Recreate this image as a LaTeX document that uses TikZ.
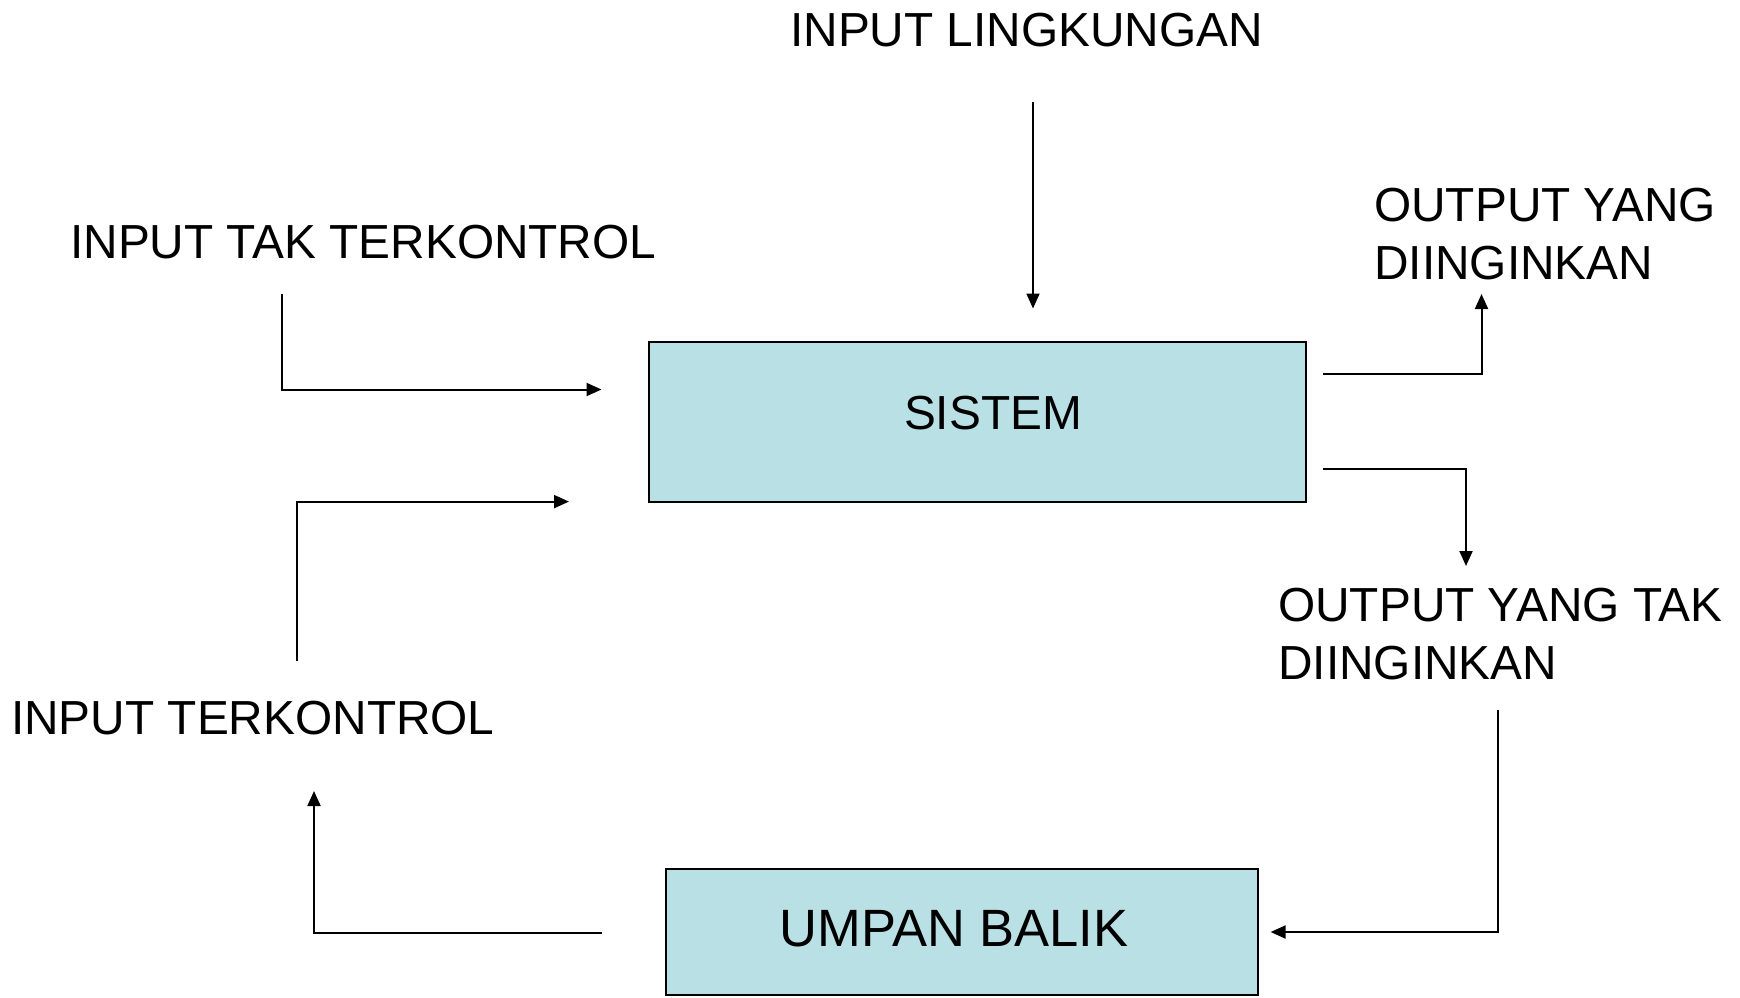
\documentclass[tikz,border=0pt]{standalone}
\usepackage{fontspec}
\setmainfont{Liberation Sans}
\usetikzlibrary{arrows.meta}
\definecolor{boxfill}{RGB}{185,224,228}
\begin{document}
\begin{tikzpicture}[x=1pt,y=-1pt,
  lbl/.style={font=\fontsize{47.8}{58}\selectfont, inner sep=0pt, align=left},
  big/.style={font=\fontsize{52.5}{62}\selectfont, inner sep=0pt},
  blk/.style={draw=black, line width=2.6pt, fill=boxfill, inner sep=0pt},
  conn/.style={line width=2pt},
  arr/.style={conn, -{Triangle[length=15pt,width=13pt]}}]
\useasboundingbox (0,0) rectangle (1740,998);

% blocks
\node[blk, minimum width=657pt, minimum height=160pt] (sistem) at (977.5,422) {};
\node[lbl] (sistemtxt) at (993,413) {SISTEM};
\node[blk, minimum width=592pt, minimum height=126pt] (umpan) at (962,932) {};
\node[big] (umpantxt) at (954,929) {UMPAN BALIK};

% labels
\node[lbl, anchor=west] (ling) at (790,30) {INPUT LINGKUNGAN};
\node[lbl, anchor=west] (taktk) at (70,242) {INPUT TAK TERKONTROL};
\node[lbl, anchor=west] (tk) at (11,718) {INPUT TERKONTROL};
\node[lbl, anchor=north west] (outy) at (1374,188) {OUTPUT YANG\\DIINGINKAN};
\node[lbl, anchor=north west] (outt) at (1278,588) {OUTPUT YANG TAK\\DIINGINKAN};

% connector end points
\coordinate (lingA) at (1033,102);
\coordinate (lingB) at (1033,308.5);
\coordinate (takA) at (282,294);
\coordinate (takB) at (601.5,389.5);
\coordinate (tkA) at (297.4,661);
\coordinate (tkB) at (569,501.6);
\coordinate (oyA) at (1323,374);
\coordinate (oyB) at (1481.5,294);
\coordinate (otA) at (1323,469.4);
\coordinate (otB) at (1466,566);
\coordinate (fbA) at (1498,710);
\coordinate (fbB) at (1270.6,932);
\coordinate (fcA) at (601.5,933);
\coordinate (fcB) at (314,791);

\draw[arr] (lingA) -- (lingB);
\draw[arr] (takA) |- (takB);
\draw[arr] (tkA) |- (tkB);
\draw[arr] (oyA) -| (oyB);
\draw[arr] (otA) -| (otB);
\draw[arr] (fbA) |- (fbB);
\draw[arr] (fcA) -| (fcB);
\end{tikzpicture}
\end{document}
